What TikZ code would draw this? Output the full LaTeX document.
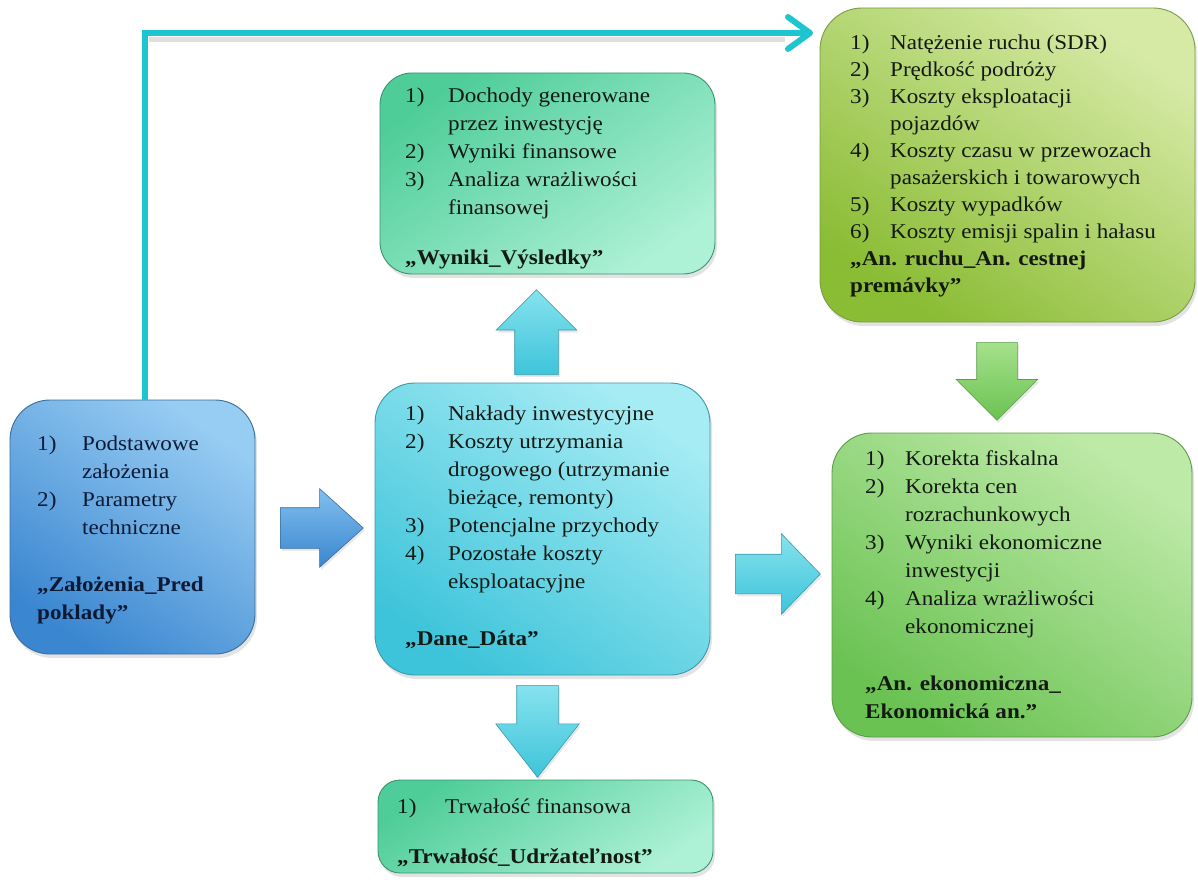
\documentclass[tikz,border=0pt]{standalone}
\usepackage{fontspec}
\setmainfont{Liberation Serif}[FakeStretch=1.1]
\usetikzlibrary{shapes.arrows,arrows.meta,shadows,calc}
\definecolor{blueTop}{HTML}{98CDF3}
\definecolor{blueMid}{HTML}{5EABE7}
\definecolor{blueBot}{HTML}{3A86D0}
\definecolor{blueEdge}{HTML}{3C6C9A}
\definecolor{cyanTop}{HTML}{A6ECF4}
\definecolor{cyanMid}{HTML}{66D8E8}
\definecolor{cyanBot}{HTML}{3EC4DA}
\definecolor{cyanEdge}{HTML}{3A9AAA}
\definecolor{mintTop}{HTML}{ADF1D6}
\definecolor{mintMid}{HTML}{76E1B6}
\definecolor{mintBot}{HTML}{4FCD98}
\definecolor{mintEdge}{HTML}{3C9272}
\definecolor{oliveTop}{HTML}{D6EAA6}
\definecolor{oliveMid}{HTML}{B4D670}
\definecolor{oliveBot}{HTML}{8ABC34}
\definecolor{oliveEdge}{HTML}{7A9C42}
\definecolor{greenTop}{HTML}{BEEAA8}
\definecolor{greenMid}{HTML}{96DB78}
\definecolor{greenBot}{HTML}{6AC252}
\definecolor{greenEdge}{HTML}{5C9C4A}
\definecolor{lineCyan}{HTML}{1EC5CF}
\definecolor{inkDark}{HTML}{141914}
\definecolor{inkNavy}{HTML}{0D1A36}
\tikzset{
  box/.style={line width=0.9pt, inner sep=0pt,
    drop shadow={shadow xshift=2pt, shadow yshift=-4pt, opacity=0.22}},
  bluebox/.style={box, draw=blueEdge, top color=blueTop, middle color=blueMid,
    bottom color=blueBot, shading angle=-35, rounded corners=40pt},
  cyanbox/.style={box, draw=cyanEdge, top color=cyanTop, middle color=cyanMid,
    bottom color=cyanBot, shading angle=-35, rounded corners=40pt},
  mintbox/.style={box, draw=mintEdge, top color=mintTop, middle color=mintMid,
    bottom color=mintBot, shading angle=-145},
  olivebox/.style={box, draw=oliveEdge, top color=oliveTop, middle color=oliveMid,
    bottom color=oliveBot, shading angle=-35, rounded corners=42pt},
  greenbox/.style={box, draw=greenEdge, top color=greenTop, middle color=greenMid,
    bottom color=greenBot, shading angle=-35, rounded corners=40pt},
  txt/.style={anchor=north west, inner sep=0pt, text=inkDark,
    font=\fontsize{21}{28}\selectfont},
  barrow/.style={single arrow, inner sep=0pt, anchor=tail, line width=0.6pt,
    drop shadow={shadow xshift=1.5pt, shadow yshift=-2.5pt, opacity=0.18}},
  bluearrow/.style={barrow, draw=blueEdge, top color=blueTop!60!blueMid, bottom color=blueBot},
  cyanarrow/.style={barrow, draw=cyanEdge, top color=cyanTop!50!cyanMid, bottom color=cyanBot},
  greenarrow/.style={barrow, draw=greenEdge, top color=greenTop!40!greenMid, bottom color=greenBot},
  cyanline/.style={draw=lineCyan, line width=6pt,
    -{Straight Barb[length=22pt,width=32pt,line width=6pt,round]}},
  lineshadow/.style={draw=black!30, line width=5pt, opacity=0.4}
}
\newcommand{\ttl}[1]{\multicolumn{2}{@{}l@{}}{\bfseries #1}}
\begin{document}
\begin{tikzpicture}[x=1pt,y=-1pt]
\useasboundingbox (0,0) rectangle (1198,885);

% boxes
\node[bluebox,  minimum width=245pt, minimum height=254pt] (zal)  at (132.5,527) {};
\node[cyanbox,  minimum width=335pt, minimum height=292pt] (dane) at (542.5,529) {};
\node[mintbox, rounded corners=32pt, minimum width=335pt, minimum height=201pt] (wyn) at (547.5,173.5) {};
\node[mintbox, rounded corners=22pt, minimum width=335pt, minimum height=93pt] (trw) at (545.5,826.5) {};
\node[olivebox, minimum width=375pt, minimum height=314pt] (ruch) at (1007.5,165) {};
\node[greenbox, minimum width=360pt, minimum height=304pt] (ekon) at (1012,585) {};

% texts
\node[txt, text=inkNavy] (zalT) at (37,431) {%
\begin{tabular}{@{}p{45pt}@{}l@{}}
1) & Podstawowe\\
   & założenia\\
2) & Parametry\\
   & techniczne\\[29pt]
\ttl{„Założenia\_Pred}\\
\ttl{poklady”}
\end{tabular}};

\node[txt] (daneT) at (405,401) {%
\begin{tabular}{@{}p{43pt}@{}l@{}}
1) & Nakłady inwestycyjne\\
2) & Koszty utrzymania\\
   & drogowego (utrzymanie\\
   & bieżące,  remonty)\\
3) & Potencjalne przychody\\
4) & Pozostałe koszty\\
   & eksploatacyjne\\[29pt]
\ttl{„Dane\_Dáta”}
\end{tabular}};

\node[txt] (wynT) at (405,83) {%
\begin{tabular}{@{}p{43pt}@{}l@{}}
1) & Dochody generowane\\
   & przez inwestycję\\
2) & Wyniki finansowe\\
3) & Analiza wrażliwości\\
   & finansowej\\[22pt]
\ttl{„Wyniki\_Výsledky”}
\end{tabular}};

\node[txt, font=\fontsize{21}{27}\selectfont] (ruchT) at (850,30) {%
\begin{tabular}{@{}p{40pt}@{}l@{}}
1) & Natężenie ruchu (SDR)\\
2) & Prędkość podróży\\
3) & Koszty eksploatacji\\
   & pojazdów\\
4) & Koszty czasu w przewozach\\
   & pasażerskich i towarowych\\
5) & Koszty wypadków\\
6) & Koszty emisji  spalin i hałasu\\
\ttl{„An. ruchu\_An. cestnej}\\
\ttl{premávky”}
\end{tabular}};

\node[txt] (ekonT) at (865,446) {%
\begin{tabular}{@{}p{40pt}@{}l@{}}
1) & Korekta fiskalna\\
2) & Korekta cen\\
   & rozrachunkowych\\
3) & Wyniki ekonomiczne\\
   & inwestycji\\
4) & Analiza wrażliwości\\
   & ekonomicznej\\[29pt]
\ttl{„An. ekonomiczna\_}\\
\ttl{Ekonomická  an.”}
\end{tabular}};

\node[txt] (trwT) at (397,794) {%
\begin{tabular}{@{}p{48pt}@{}l@{}}
1) & Trwałość finansowa\\[22pt]
\ttl{„Trwałość\_Udržateľnost”}
\end{tabular}};

% block arrows
\node[bluearrow, minimum height=83pt, inner ysep=20pt,
      single arrow head extend=19pt, single arrow tip angle=84] (aZD) at (280,528) {};
\node[cyanarrow, rotate=90, minimum height=85pt, inner ysep=21.5pt,
      single arrow head extend=18.5pt, single arrow tip angle=90] (aDW) at (536.5,375) {};
\node[cyanarrow, rotate=-90, minimum height=92pt, inner ysep=20.5pt,
      single arrow head extend=21pt, single arrow tip angle=76] (aDT) at (537.5,685) {};
\node[cyanarrow, minimum height=85pt, inner ysep=19.5pt,
      single arrow head extend=20.5pt, single arrow tip angle=92] (aDE) at (735,574) {};
\node[greenarrow, rotate=-90, minimum height=78pt, inner ysep=20pt,
      single arrow head extend=20.5pt, single arrow tip angle=90] (aRE) at (997,342) {};

% cyan connector
\coordinate (turn) at ([xshift=12.5pt]zal.north |- 0,33);
\coordinate (ruchIn) at (813,33);
\draw[lineshadow] ($(turn)+(4,7)$) -- ($(ruchIn)+(-28,7)$);
\draw[cyanline] ([xshift=12.5pt]zal.north) |- (ruchIn);
\end{tikzpicture}
\end{document}
